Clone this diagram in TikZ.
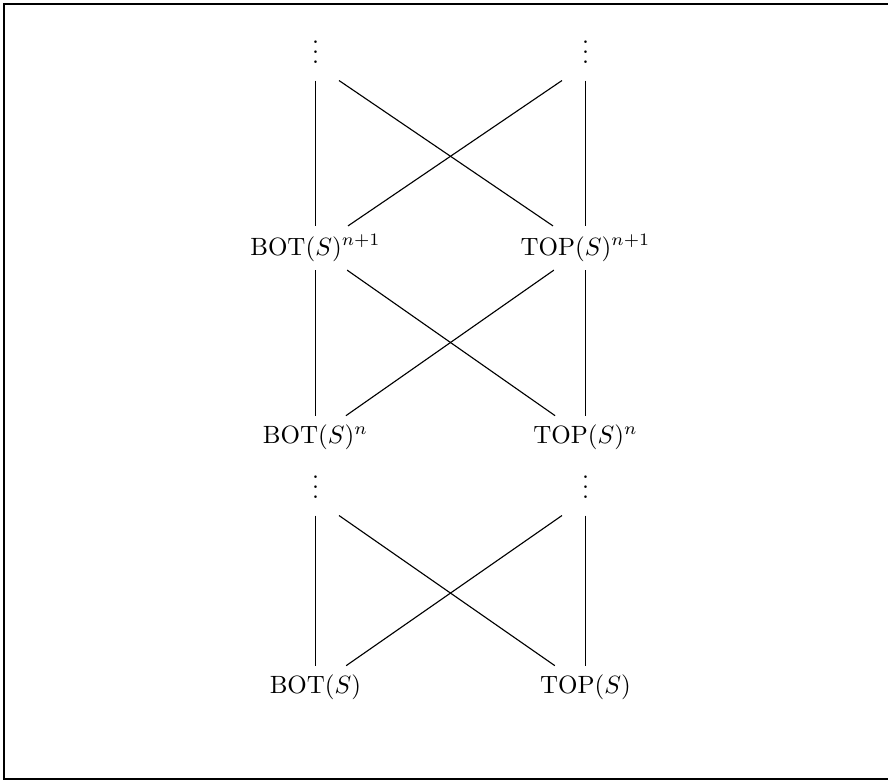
\documentclass[tikz,border=0pt]{standalone}
\usepackage{tikz}

\begin{document}
\begin{tikzpicture}[x=0.4pt,y=-0.4pt,
      term/.style={inner sep=3.33pt},
      dots/.style={inner sep=0pt,minimum width=18.4pt,minimum height=28pt},
      link/.style={line width=0.45pt}]
    \useasboundingbox (0,0) rectangle (888,782);
    \draw[line width=0.5pt] (4,4) rectangle (900,779);
    \node[dots] (dotsL)   at (315.5,45)  {$\vdots$};
    \node[dots] (dotsR)   at (585.5,45)  {$\vdots$};
    \node[term] (botNp)   at (315.5,248) {$\mathrm{BOT}(S)^{n+1}$};
    \node[term] (topNp)   at (585.5,248) {$\mathrm{TOP}(S)^{n+1}$};
    \node[term] (botN)    at (315.5,437) {$\mathrm{BOT}(S)^{n}$};
    \node[term] (topN)    at (585.5,437) {$\mathrm{TOP}(S)^{n}$};
    \node[dots] (dotsLL)  at (315.5,480) {$\vdots$};
    \node[dots] (dotsRR)  at (585.5,480) {$\vdots$};
    \node[term] (bot)     at (315.5,687) {$\mathrm{BOT}(S)$};
    \node[term] (top)     at (585.5,687) {$\mathrm{TOP}(S)$};
    \draw[link] (dotsL) -- (botNp); \draw[link] (dotsR) -- (topNp);
    \draw[link] (dotsL.south east) -- (topNp); \draw[link] (dotsR.south west) -- (botNp);
    \draw[link] (botNp) -- (botN); \draw[link] (topNp) -- (topN);
    \draw[link] (botNp) -- (topN); \draw[link] (topNp) -- (botN);
    \draw[link] (dotsLL) -- (bot); \draw[link] (dotsRR) -- (top);
    \draw[link] (dotsLL.south east) -- (top); \draw[link] (dotsRR.south west) -- (bot);
  \end{tikzpicture}
\end{document}
